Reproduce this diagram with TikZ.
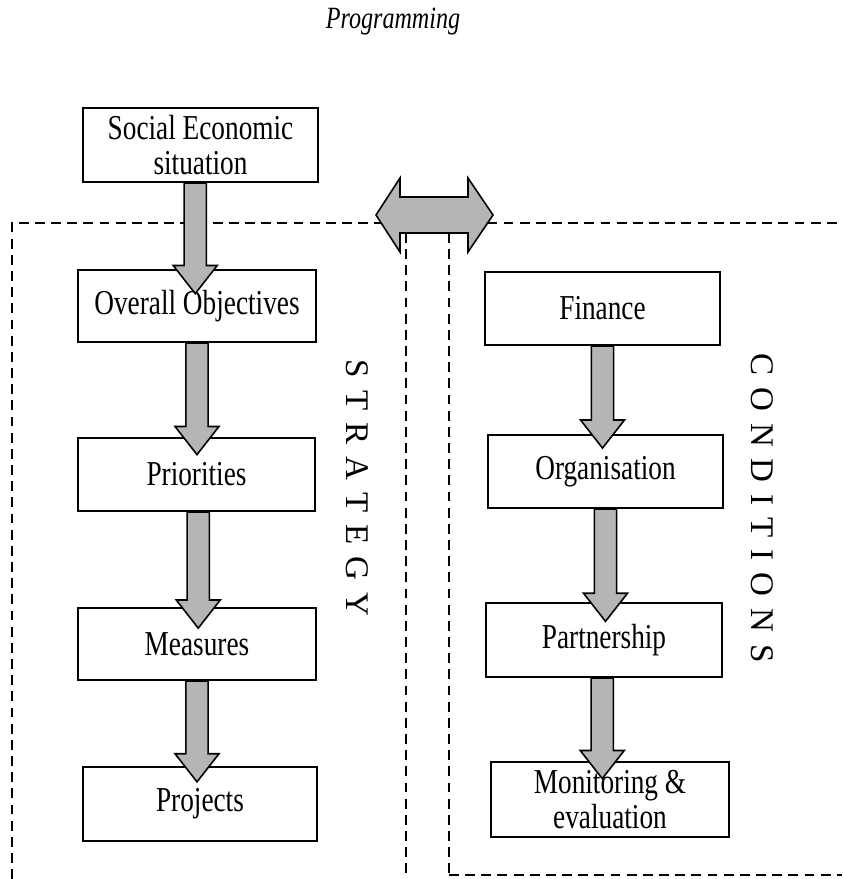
\documentclass[tikz,border=0pt]{standalone}
\usepackage{fontspec}
\setmainfont{Liberation Serif}[FakeStretch=0.78]
\newfontfamily\plainserif{Liberation Serif}
\usetikzlibrary{calc}
\newcommand\fatdown[4]{% source, target, x offset, tip depth
  \path[fatarrow] let \p1=(#1.south), \p2=(#2.north) in
    (\x1+#3-6.3pt,\y1) -- (\x1+#3-6.3pt,\y2-#4+16pt) -- (\x1+#3-12.5pt,\y2-#4+16pt)
    -- (\x1+#3,\y2-#4) -- (\x1+#3+12.5pt,\y2-#4+16pt) -- (\x1+#3+6.3pt,\y2-#4+16pt)
    -- (\x1+#3+6.3pt,\y1) -- cycle;}
\newcommand\lsp{\hspace{6.8pt}}
\begin{document}
\begin{tikzpicture}[x=0.02cm,y=-0.02cm,
  box/.style={draw,line width=1.1pt,fill=white,align=center,inner sep=0pt,
    minimum width=4.7cm,minimum height=1.46cm,
    font=\fontsize{19.9pt}{18.8pt}\selectfont},
  fatarrow/.style={draw,line width=0.9pt,fill=gray!58},
  region/.style={line width=1.3pt,dash pattern=on 5.6pt off 3.6pt},
  vlabel/.style={rotate=-90,inner sep=0pt,font=\plainserif\fontsize{18.8pt}{18.8pt}\selectfont}]
\useasboundingbox (0,0) rectangle (842,879);
\fill[white] (0,0) rectangle (842,879);

% title
\node[font=\itshape\fontsize{17.6pt}{17.6pt}\selectfont] (title) at (393,22) {Programming};

% dashed regions
\coordinate (tl) at (12,223);
\coordinate (tr) at (842,223);
\coordinate (bl) at (12,879);
\coordinate (s1t) at (406,233);
\coordinate (s1b) at (406,879);
\coordinate (s2t) at (449,233);
\coordinate (s2b) at (449,879);
\coordinate (brl) at (449,875);
\coordinate (brr) at (842,875);
\draw[region] (bl) -- (tl) -- (tr);
\draw[region] (s1t) -- (s1b);
\draw[region] (s2t) -- (s2b);
\draw[region] (brl) -- (brr);

% left column
\node[box,minimum width=4.7cm,minimum height=1.48cm] (soc) at (200.5,145) {Social Economic\\[1pt]situation};
\node[box,minimum width=4.76cm,minimum height=1.44cm] (ovr) at (197,306) {Overall Objectives};
\node[box,minimum width=4.74cm,minimum height=1.46cm] (pri) at (196.5,474.5) {Priorities};
\node[box,minimum width=4.76cm,minimum height=1.44cm] (mea) at (197,644) {Measures};
\node[box,minimum width=4.68cm,minimum height=1.48cm] (pro) at (200,804) {Projects};

% right column
\node[box,minimum width=4.7cm,minimum height=1.46cm] (fin) at (602.5,308.5) {Finance};
\node[box,minimum width=4.7cm,minimum height=1.46cm] (org) at (605.5,471.5) {Organisation};
\node[box,minimum width=4.72cm,minimum height=1.48cm] (par) at (604,640) {Partnership};
\node[box,minimum width=4.76cm,minimum height=1.5cm] (mon) at (610,799.5) {Monitoring \&\\[1pt]evaluation};

% vertical labels
\node[vlabel] (strat) at (357,488) {S\lsp T\lsp R\lsp A\lsp T\lsp E\lsp G\lsp Y};
\node[vlabel] (cond) at (762,508) {C\lsp O\lsp N\lsp D\lsp I\lsp T\lsp I\lsp O\lsp N\lsp S};

% arrows
\fatdown{soc}{ovr}{-3pt}{14pt}
\fatdown{ovr}{pri}{0pt}{10pt}
\fatdown{pri}{mea}{1pt}{12pt}
\fatdown{mea}{pro}{0pt}{9pt}
\fatdown{fin}{org}{0pt}{8pt}
\fatdown{org}{par}{0pt}{11pt}
\fatdown{par}{mon}{-1pt}{10pt}

% double arrow between strategy and conditions
\path[fatarrow] (376,215) -- (400,178) -- (400,197) -- (468,197) -- (468,178)
  -- (493,215) -- (468,252) -- (468,233) -- (400,233) -- (400,252) -- cycle;
\end{tikzpicture}
\end{document}
